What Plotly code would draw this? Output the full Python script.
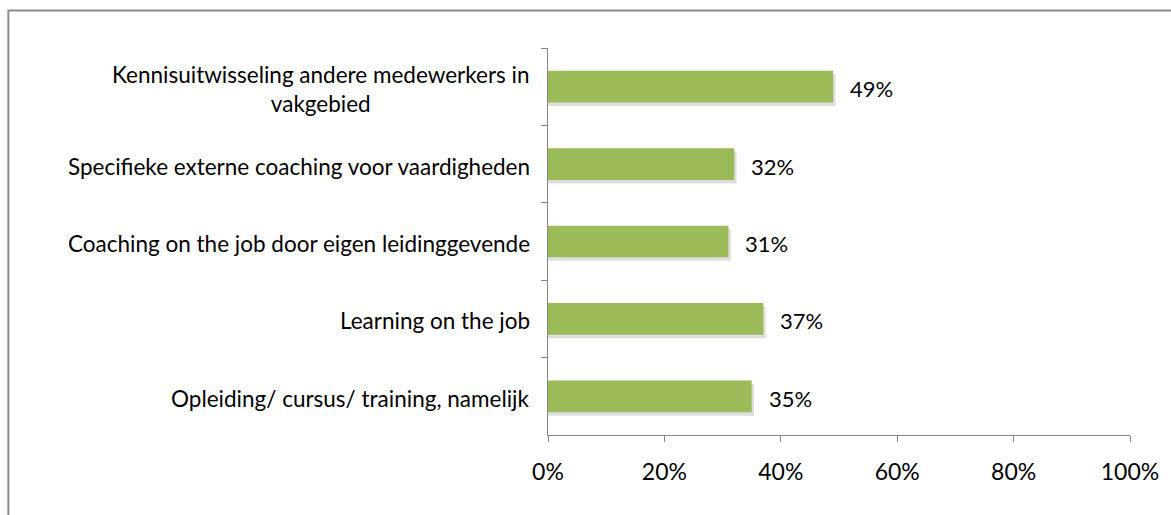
import plotly.graph_objects as go

categories = [
    "Kennisuitwisseling andere medewerkers in<br>vakgebied",
    "Specifieke externe coaching voor vaardigheden",
    "Coaching on the job door eigen leidinggevende",
    "Learning on the job",
    "Opleiding/ cursus/ training, namelijk",
]
values = [0.49, 0.32, 0.31, 0.37, 0.35]
value_labels = ["49%", "32%", "31%", "37%", "35%"]
x_ticks = [0, 0.2, 0.4, 0.6, 0.8, 1.0]
x_tick_labels = ["0%", "20%", "40%", "60%", "80%", "100%"]

FONT = "Lato, Carlito, Calibri, sans-serif"
BAR_W = 0.41

fig = go.Figure()
# soft drop shadow behind bars
fig.add_trace(go.Bar(
    x=[v + 0.004 for v in values],
    y=categories,
    orientation="h",
    width=BAR_W,
    offset=-BAR_W / 2 + 0.045,
    marker=dict(color="rgba(90,90,90,0.2)", line=dict(width=0)),
    hoverinfo="skip",
))
fig.add_trace(go.Bar(
    x=values,
    y=categories,
    orientation="h",
    width=BAR_W,
    offset=-BAR_W / 2,
    marker=dict(color="#9BBB59", line=dict(width=0)),
    hoverinfo="skip",
))

for c, v, lab in zip(categories, values, value_labels):
    fig.add_annotation(
        x=v, xref="x", y=c, yref="y",
        text=lab, showarrow=False,
        xanchor="left", yanchor="middle",
        xshift=15, yshift=-2,
        font=dict(family=FONT, size=22, color="#000000"),
    )

for c in categories:
    fig.add_annotation(
        x=0, xref="paper", y=c, yref="y",
        text=c, showarrow=False,
        xanchor="right", yanchor="middle", align="center",
        xshift=-16, yshift=-2,
        font=dict(family=FONT, size=22.5, color="#000000"),
    )

W, H = 1171, 515
L, R, T, B = 548, 39, 48, 80
pw, ph = W - L - R, H - T - B

def px_x(p):
    return (p - L) / pw

def px_y(p):
    return (H - B - p) / ph

fig.add_shape(
    type="rect", xref="paper", yref="paper",
    x0=px_x(6.5), x1=px_x(1185), y0=px_y(10.5), y1=px_y(530),
    line=dict(color="#8C8C8C", width=2), layer="below",
)

fig.update_layout(
    width=W, height=H,
    margin=dict(l=L, r=R, t=T, b=B, pad=0),
    paper_bgcolor="white", plot_bgcolor="white",
    barmode="overlay",
    showlegend=False,
    font=dict(family=FONT, color="#000000"),
    xaxis=dict(
        range=[0, 1], tickvals=x_ticks, ticktext=x_tick_labels,
        showgrid=False, zeroline=False,
        showline=True, linecolor="#868686", linewidth=1,
        ticks="outside", ticklen=6, tickcolor="#868686",
        tickfont=dict(family=FONT, size=23, color="#000000"),
        ticklabelstandoff=10,
        fixedrange=True,
    ),
    yaxis=dict(
        autorange="reversed",
        showticklabels=False,
        showgrid=False, zeroline=False,
        showline=True, linecolor="#868686", linewidth=1,
        ticks="outside", ticklen=6, tickcolor="#868686",
        tickson="boundaries",
        fixedrange=True,
    ),
)

fig.write_html(
    "out.html",
    config={"displayModeBar": False},
    post_script="document.body.style.margin='0';document.body.style.overflow='hidden';",
)
